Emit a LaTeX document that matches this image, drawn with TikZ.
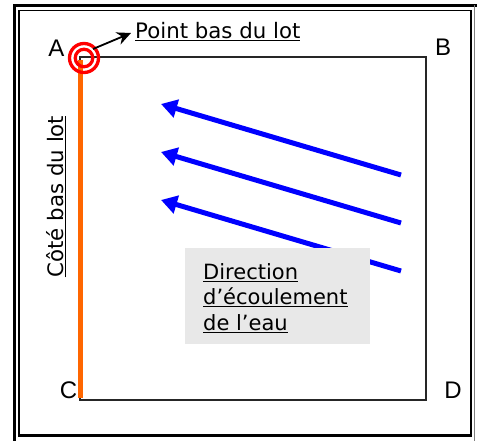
\documentclass[tikz,border=0pt]{standalone}
\usepackage{fontspec}
\setmainfont{DejaVu Sans}
\newfontfamily\arialf{Liberation Sans}
\usetikzlibrary{arrows.meta}
\definecolor{lotorange}{HTML}{FF6600}
\definecolor{boxgray}{HTML}{E8E8E8}
\definecolor{flowblue}{HTML}{0000FF}
\begin{document}
\begin{tikzpicture}[x=1pt,y=-1pt,
  lbl/.style={font=\arialf\fontsize{24}{28}\selectfont, inner sep=0pt},
  ptxt/.style={font=\fontsize{21.3}{26}\selectfont, inner sep=0pt},
  dtxt/.style={font=\fontsize{21}{25.5}\selectfont, inner sep=0pt, align=left},
  ring/.style={draw=red, circle, line width=3.3pt, inner sep=0pt},
  flow/.style={flowblue, line width=5pt, -{Triangle[length=16pt,width=18pt]}},
  pointer/.style={black, line width=1.8pt, -{Stealth[length=14pt,width=13pt]}}]
\useasboundingbox (0,0) rectangle (477,441);
% frame
\draw[line width=3pt] (14.5,441) -- (14.5,5.5) -- (477,5.5);
\draw[gray, line width=1.5pt] (474.5,5.5) -- (474.5,441);
\draw[line width=1.5pt] (19,437) -- (19,10.5) -- (472,10.5);
\draw[line width=2pt] (471,10.5) -- (471,437);
\draw[line width=3pt] (19,435.5) -- (472,435.5);
% lot
\coordinate (pA) at (80,57);
\coordinate (pD) at (426,400);
\draw[black!85, line width=1.5pt] (pA) rectangle (pD);
% cote bas
\coordinate (otop) at (80,60);
\coordinate (obot) at (80,398);
\draw[lotorange, line width=5pt] (otop) -- (obot);
% point bas
\node[ring, minimum size=29pt] (ring1) at (84,58) {};
\node[ring, minimum size=17.5pt] (ring2) at (84,58) {};
\node[ptxt, anchor=base west] (pb) at (135,39) {\underline{Point bas du lot}};
\coordinate (arrs) at (93,49);
\coordinate (arrt) at (131,33);
\draw[pointer] (arrs) -- (arrt);
% flow arrows
\coordinate (b1s) at (401,175); \coordinate (b1e) at (161,104);
\coordinate (b2s) at (401,223); \coordinate (b2e) at (161,152);
\coordinate (b3s) at (401,271); \coordinate (b3e) at (161,200);
\draw[flow] (b1s) -- (b1e);
\draw[flow] (b2s) -- (b2e);
\draw[flow] (b3s) -- (b3e);
% box
\node[fill=boxgray, minimum width=185pt, minimum height=96pt, anchor=north west, inner sep=0pt] (box) at (185,248) {};
\node[dtxt, anchor=north west] (dir) at (203,263) {\underline{Direction}\\\underline{d’écoulement}\\\underline{de l’eau}};
% side label
\node[ptxt, rotate=90, anchor=base] (cote) at (63.5,196.5) {\underline{Côté bas du lot}};
% corners
\node[lbl] (A) at (56.5,48.5) {A};
\node[lbl] (B) at (443,47) {B};
\node[lbl] (C) at (68.5,390.5) {C};
\node[lbl] (D) at (453,390.5) {D};
\end{tikzpicture}
\end{document}
